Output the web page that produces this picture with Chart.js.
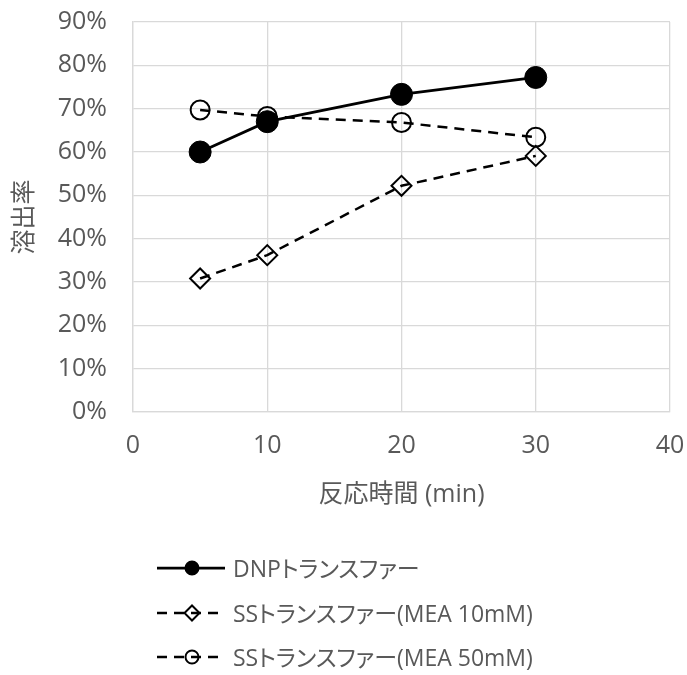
<!DOCTYPE html>
<html>
<head>
<meta charset="utf-8">
<script src="https://cdn.jsdelivr.net/npm/chart.js@4"></script>
<style>
    body { margin: 0; background: #fff; }
    #wrap { width: 687px; height: 675px; position: relative; }
    .legend-text {
        position: absolute;
        left: 233px;
        height: 30px;
        line-height: 30px;
        font-family: 'Open Sans', 'Noto Sans CJK JP', sans-serif;
        font-size: 23px;
        color: #595959;
        font-feature-settings: "palt";
        white-space: nowrap;
    }
</style>
</head>
<body>
<div id="wrap"><canvas id="chart"></canvas></div>
<script>
// Reaction time (min)
const times = [5, 10, 20, 30];

// Dissolution rate (%)
const dnpValues = [60.0, 67.0, 73.3, 77.2];
const mea10Values = [30.8, 36.2, 52.2, 59.1];
const mea50Values = [69.7, 68.2, 66.8, 63.4];

const seriesNames = ['DNPトランスファー', 'SSトランスファー(MEA 10mM)', 'SSトランスファー(MEA 50mM)'];

const textColor = '#595959';
const gridColor = '#d9d9d9';
const fontFamily = "'Open Sans', 'Noto Sans CJK JP', sans-serif";
const legendRows = [568, 613, 657];

function toPoints(values) {
    return times.map((t, i) => ({ x: t, y: values[i] }));
}

// Draw a marker for the legend
function drawMarker(ctx, style, filled, r, x, y) {
    ctx.beginPath();
    if (style === 'rectRot') {
        ctx.moveTo(x - r, y);
        ctx.lineTo(x, y - r);
        ctx.lineTo(x + r, y);
        ctx.lineTo(x, y + r);
        ctx.closePath();
    } else {
        ctx.arc(x, y, r, 0, Math.PI * 2);
    }
    if (filled) {
        ctx.fillStyle = '#000';
        ctx.fill();
    }
    ctx.stroke();
}

// Fixed axis box, no extra label padding
function fixBox(scale, size) {
    if (scale.isHorizontal()) {
        scale.height = size;
    } else {
        scale.width = size;
    }
    scale.paddingTop = 0;
    scale.paddingBottom = 0;
    scale.paddingLeft = 0;
    scale.paddingRight = 0;
}

// Legend symbols below the axis (labels are html text)
const bottomLegend = {
    id: 'bottomLegend',
    afterDraw(chart) {
        const ctx = chart.ctx;
        ctx.save();
        chart.data.datasets.forEach((ds, i) => {
            const y = legendRows[i];
            ctx.strokeStyle = '#000';
            ctx.lineWidth = ds.borderWidth;
            ctx.setLineDash(ds.borderDash || []);
            ctx.beginPath();
            ctx.moveTo(157, y);
            ctx.lineTo(225, y);
            ctx.stroke();
            ctx.setLineDash([]);
            ctx.lineWidth = 2;
            const filled = ds.pointBackgroundColor === '#000';
            drawMarker(ctx, ds.pointStyle, filled, ds.pointStyle === 'rectRot' ? 7.5 : 6.5, 192, y);
        });
        ctx.restore();
    }
};

// Legend labels
const wrap = document.getElementById('wrap');
seriesNames.forEach((name, i) => {
    const el = document.createElement('div');
    el.className = 'legend-text';
    el.style.top = (legendRows[i] - 15) + 'px';
    el.textContent = name;
    wrap.appendChild(el);
});

const ctx = document.getElementById('chart').getContext('2d');
new Chart(ctx, {
    type: 'line',
    data: {
        datasets: [
            {
                label: seriesNames[0],
                data: toPoints(dnpValues),
                borderColor: '#000',
                borderWidth: 2.75,
                pointStyle: 'circle',
                pointRadius: 11,
                pointBackgroundColor: '#000',
                pointBorderColor: '#000',
                pointBorderWidth: 1
            },
            {
                label: seriesNames[1],
                data: toPoints(mea10Values),
                borderColor: '#000',
                borderWidth: 2.5,
                borderDash: [10, 7],
                pointStyle: 'rectRot',
                pointRadius: 10,
                pointBackgroundColor: 'rgba(0,0,0,0)',
                pointBorderColor: '#000',
                pointBorderWidth: 2
            },
            {
                label: seriesNames[2],
                data: toPoints(mea50Values),
                borderColor: '#000',
                borderWidth: 2.5,
                borderDash: [10, 7],
                pointStyle: 'circle',
                pointRadius: 9.5,
                pointBackgroundColor: 'rgba(0,0,0,0)',
                pointBorderColor: '#000',
                pointBorderWidth: 2
            }
        ]
    },
    options: {
        responsive: true,
        maintainAspectRatio: false,
        animation: false,
        layout: {
            autoPadding: false,
            padding: { top: 22, left: 0, right: 17, bottom: 163 }
        },
        plugins: {
            legend: { display: false },
            tooltip: { enabled: false }
        },
        scales: {
            x: {
                type: 'linear',
                min: 0,
                max: 40,
                ticks: {
                    stepSize: 10,
                    padding: 19,
                    color: textColor,
                    font: { family: fontFamily, size: 25 }
                },
                grid: { color: gridColor, lineWidth: 1.3, drawTicks: false },
                border: { color: gridColor, width: 1.3 },
                title: {
                    display: true,
                    text: '反応時間 (min)',
                    color: textColor,
                    font: { family: fontFamily, size: 25 },
                    padding: { top: 0, bottom: 2 }
                },
                afterFit: scale => fixBox(scale, 100)
            },
            y: {
                min: 0,
                max: 90,
                ticks: {
                    stepSize: 10,
                    padding: 26,
                    color: textColor,
                    font: { family: fontFamily, size: 25 },
                    callback: value => value + '%'
                },
                grid: { color: gridColor, lineWidth: 1.3, drawTicks: false },
                border: { color: gridColor, width: 1.3 },
                title: {
                    display: true,
                    text: '溶出率',
                    color: textColor,
                    font: { family: fontFamily, size: 25 },
                    padding: { top: 10, bottom: 0 }
                },
                afterFit: scale => fixBox(scale, 133)
            }
        }
    },
    plugins: [bottomLegend]
});
</script>
</body>
</html>
